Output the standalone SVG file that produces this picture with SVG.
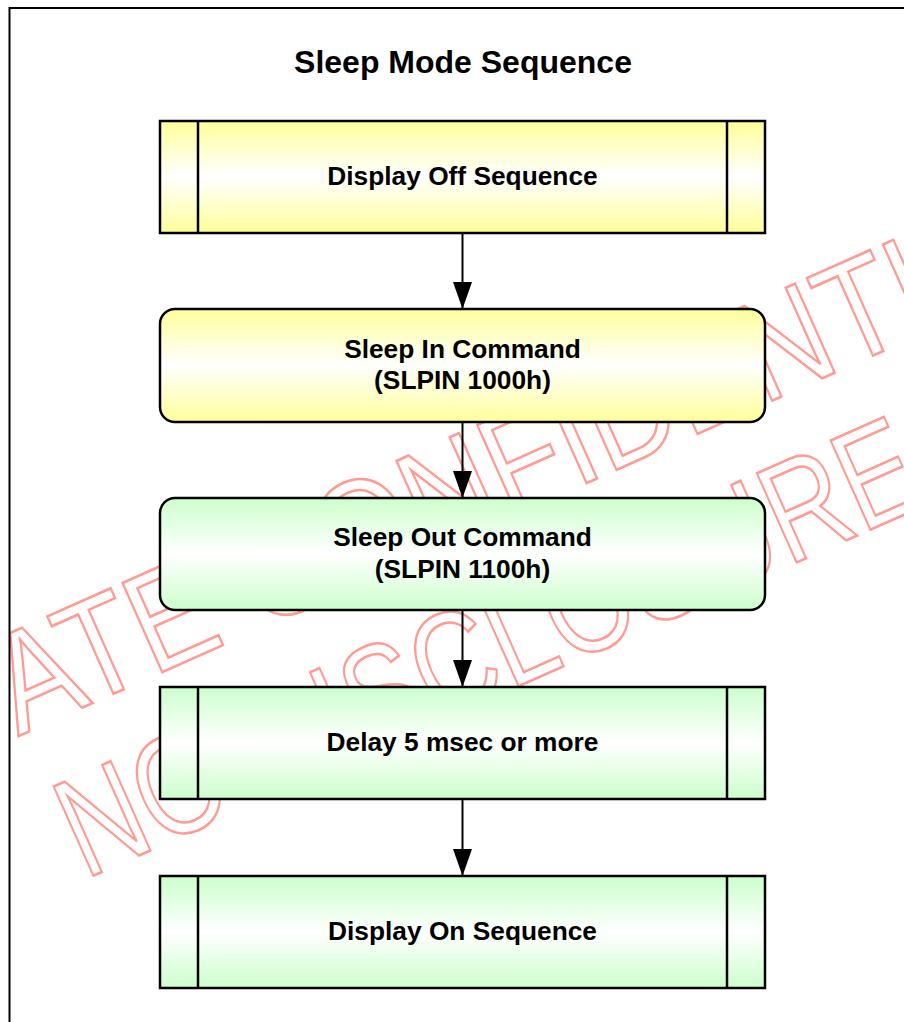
<svg xmlns="http://www.w3.org/2000/svg" width="904" height="1022" viewBox="0 0 904 1022">
  <style>
    .wm { font-family: "Liberation Sans", Arial, sans-serif; font-size: 142px; fill: none; stroke: #ff9b92; stroke-width: 2.6; }
    .box { stroke: #000; stroke-width: 2.5; }
    .bar { stroke: #000; stroke-width: 2.5; fill: none; }
    .lbl { font-family: "Liberation Sans", Arial, sans-serif; font-weight: bold; font-size: 26.3px; fill: #000; text-anchor: middle; }
    .title { font-family: "Liberation Sans", Arial, sans-serif; font-weight: bold; font-size: 32px; fill: #000; text-anchor: middle; }
    .conn { stroke: #000; stroke-width: 2; fill: none; }
  </style>
  <defs>
    <linearGradient id="gy" x1="0" y1="0" x2="0" y2="1">
      <stop offset="0" stop-color="#ffff99"/>
      <stop offset="0.5" stop-color="#ffffff"/>
      <stop offset="1" stop-color="#ffff99"/>
    </linearGradient>
    <linearGradient id="gg" x1="0" y1="0" x2="0" y2="1">
      <stop offset="0" stop-color="#ccffcc"/>
      <stop offset="0.5" stop-color="#ffffff"/>
      <stop offset="1" stop-color="#ccffcc"/>
    </linearGradient>
    <marker id="ah" markerUnits="userSpaceOnUse" markerWidth="27" markerHeight="19" refX="27" refY="9.5" orient="auto">
      <path d="M0,0 L27,9.5 L0,19 Z" fill="#000"/>
    </marker>
  </defs>

  <rect x="0" y="0" width="904" height="1022" fill="#fff"/>

  <g id="watermark" transform="rotate(-24)">
    <text class="wm" x="-560" y="680" textLength="1440" lengthAdjust="spacingAndGlyphs">PRIVATE CONFIDENTIAL</text>
    <text class="wm" x="-280" y="838" textLength="925" lengthAdjust="spacingAndGlyphs">NO DISCLOSURE</text>
  </g>

  <path id="frame" d="M9.5,1022 L9.5,8 L904,8" fill="none" stroke="#000" stroke-width="2"/>

  <text id="title" class="title" x="463" y="73">Sleep Mode Sequence</text>

  <g id="connectors">
    <line class="conn" x1="462.5" y1="233" x2="462.5" y2="309" marker-end="url(#ah)"/>
    <line class="conn" x1="462.5" y1="422" x2="462.5" y2="498" marker-end="url(#ah)"/>
    <line class="conn" x1="462.5" y1="610" x2="462.5" y2="687" marker-end="url(#ah)"/>
    <line class="conn" x1="462.5" y1="799" x2="462.5" y2="876" marker-end="url(#ah)"/>
  </g>

  <g id="display-off">
    <rect class="box" x="160" y="121" width="605" height="112" fill="url(#gy)"/>
    <line class="bar" x1="198" y1="121" x2="198" y2="233"/>
    <line class="bar" x1="727" y1="121" x2="727" y2="233"/>
    <text class="lbl" x="462.5" y="185">Display Off Sequence</text>
  </g>

  <g id="sleep-in">
    <rect class="box" x="160" y="309" width="605" height="113" rx="15" ry="15" fill="url(#gy)"/>
    <text class="lbl" x="462.5" y="358">Sleep In Command</text>
    <text class="lbl" x="462.5" y="389">(SLPIN 1000h)</text>
  </g>

  <g id="sleep-out">
    <rect class="box" x="160" y="498" width="605" height="112" rx="15" ry="15" fill="url(#gg)"/>
    <text class="lbl" x="462.5" y="546">Sleep Out Command</text>
    <text class="lbl" x="462.5" y="578">(SLPIN 1100h)</text>
  </g>

  <g id="delay">
    <rect class="box" x="160" y="687" width="605" height="112" fill="url(#gg)"/>
    <line class="bar" x1="198" y1="687" x2="198" y2="799"/>
    <line class="bar" x1="727" y1="687" x2="727" y2="799"/>
    <text class="lbl" x="462.5" y="751">Delay 5 msec or more</text>
  </g>

  <g id="display-on">
    <rect class="box" x="160" y="876" width="605" height="112" fill="url(#gg)"/>
    <line class="bar" x1="198" y1="876" x2="198" y2="988"/>
    <line class="bar" x1="727" y1="876" x2="727" y2="988"/>
    <text class="lbl" x="462.5" y="940">Display On Sequence</text>
  </g>
</svg>
